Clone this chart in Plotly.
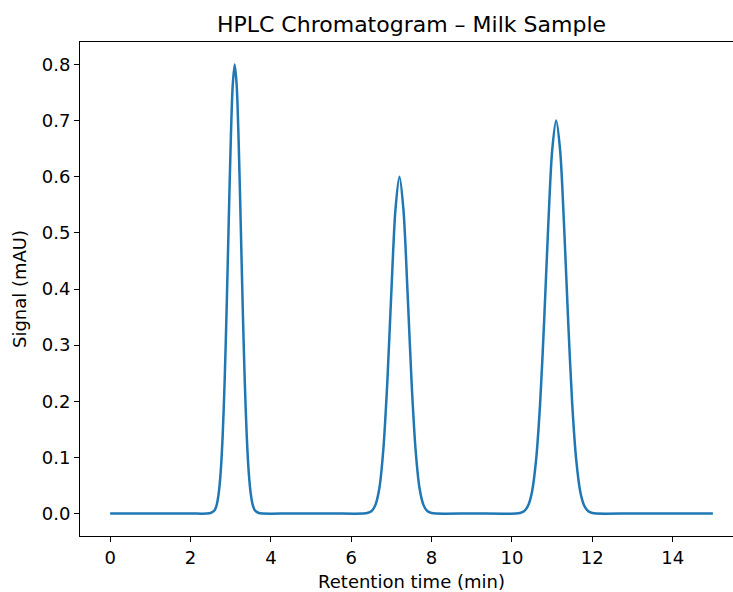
import plotly.graph_objects as go

# retention time (min) and detector signal (mAU)
time = [
    0.0, 1.0, 2.0, 2.4,
    2.5, 2.6, 2.65, 2.7, 2.75, 2.8, 2.85, 2.9, 2.95, 3.0, 3.05, 3.1,
    3.15, 3.2, 3.25, 3.3, 3.35, 3.4, 3.45, 3.5, 3.55, 3.6, 3.7, 3.8,
    4.5, 5.5, 6.3,
    6.4, 6.5, 6.6, 6.7, 6.8, 6.9, 7.0, 7.1, 7.2,
    7.3, 7.4, 7.5, 7.6, 7.7, 7.8, 7.9, 8.0, 8.1,
    9.0, 10.1,
    10.2, 10.3, 10.4, 10.5, 10.6, 10.7, 10.8, 10.9, 11.0, 11.1,
    11.2, 11.3, 11.4, 11.5, 11.6, 11.7, 11.8, 11.9, 12.0, 12.1,
    13.0, 14.0, 15.0,
]
signal = [
    0.0, 0.0, 0.0, 0.0,
    0.001, 0.006, 0.015, 0.035, 0.073, 0.138, 0.236, 0.366, 0.516, 0.658, 0.762, 0.8,
    0.762, 0.658, 0.516, 0.366, 0.236, 0.138, 0.073, 0.035, 0.015, 0.006, 0.001, 0.0,
    0.0, 0.0, 0.0,
    0.001, 0.004, 0.015, 0.045, 0.115, 0.237, 0.397, 0.541, 0.6,
    0.541, 0.397, 0.237, 0.115, 0.045, 0.015, 0.004, 0.001, 0.0,
    0.0, 0.0,
    0.001, 0.004, 0.014, 0.039, 0.095, 0.195, 0.341, 0.508, 0.646, 0.7,
    0.646, 0.508, 0.341, 0.195, 0.095, 0.039, 0.014, 0.004, 0.001, 0.0,
    0.0, 0.0, 0.0,
]

x_ticks = [0, 2, 4, 6, 8, 10, 12, 14]
y_ticks = [0.0, 0.1, 0.2, 0.3, 0.4, 0.5, 0.6, 0.7, 0.8]

fig = go.Figure()
fig.add_trace(
    go.Scatter(
        x=time,
        y=signal,
        mode="lines",
        line=dict(color="#1f77b4", width=2.5, shape="spline", smoothing=0.8),
        showlegend=False,
    )
)

axis_style = dict(
    showline=True,
    linecolor="black",
    linewidth=1.1,
    mirror=True,
    ticks="outside",
    ticklen=5,
    tickwidth=1.1,
    tickcolor="black",
    showgrid=False,
    zeroline=False,
    automargin=False,
    tickfont=dict(size=18, color="black"),
)

fig.update_xaxes(
    range=[-0.75, 15.75],
    tickvals=x_ticks,
    title=dict(text="Retention time (min)", font=dict(size=18, color="black")),
    **axis_style,
)
fig.update_yaxes(
    range=[-0.04, 0.84],
    tickvals=y_ticks,
    tickformat=".1f",
    title=dict(text="Signal (mAU)", font=dict(size=18, color="black"), standoff=10),
    **axis_style,
)

# the original image is cropped on the right, so the axes box runs past the window edge
fig.update_layout(
    width=745,
    height=592,
    margin=dict(l=80, r=2, t=42, b=56),
    paper_bgcolor="white",
    plot_bgcolor="white",
    font=dict(family="DejaVu Sans", color="black"),
    title=dict(
        text="HPLC Chromatogram – Milk Sample",
        x=0.5,
        xref="paper",
        y=1 - 24 / 592,
        yanchor="middle",
        font=dict(size=22, color="black"),
    ),
)

fig.write_html(
    "out.html",
    config={"displayModeBar": False},
    post_script="document.body.style.margin='0'; document.body.style.overflow='hidden';",
)
